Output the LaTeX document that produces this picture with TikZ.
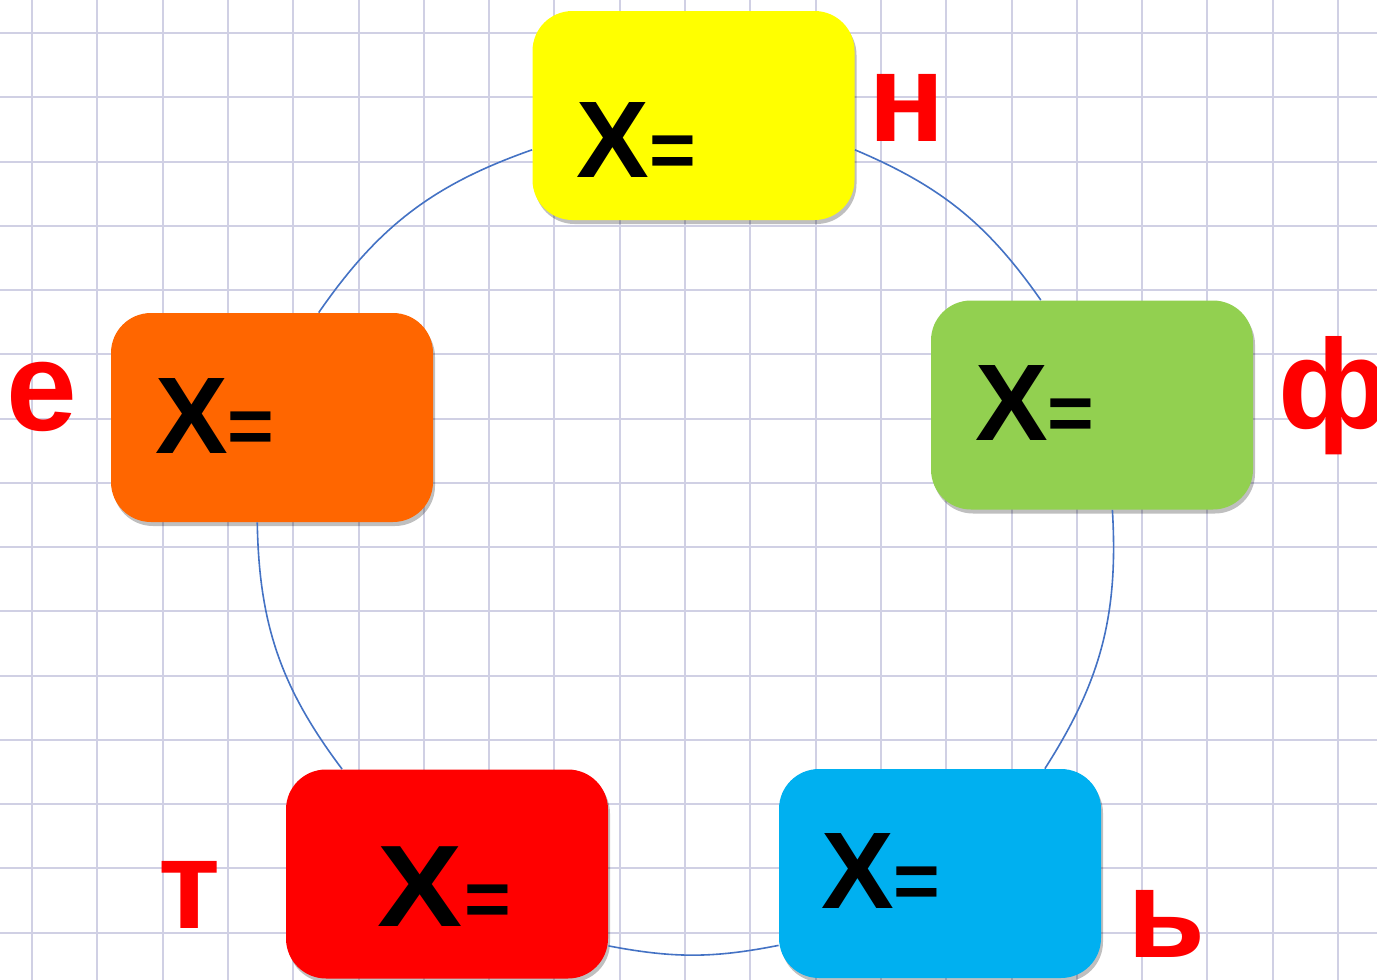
\documentclass[tikz,border=0pt]{standalone}
\usepackage{fontspec}
\usepackage{graphicx}
\setmainfont{Liberation Sans}
\usetikzlibrary{shadows,calc}
\definecolor{gridline}{RGB}{208,208,228}
\definecolor{cycleblue}{RGB}{68,114,196}
\definecolor{boxyellow}{RGB}{255,255,0}
\definecolor{boxgreen}{RGB}{146,208,80}
\definecolor{boxorange}{RGB}{255,102,0}
\definecolor{boxred}{RGB}{255,0,0}
\definecolor{boxblue}{RGB}{0,176,240}
\definecolor{letterred}{RGB}{255,0,0}
\newcommand{\eqsign}{{\fontsize{40}{44}\selectfont=}}

\begin{document}
\begin{tikzpicture}[x=0.5pt,y=-0.5pt,
 box/.style={rounded corners=20pt,minimum width=161pt,minimum height=104.5pt,inner sep=0pt,
  drop shadow={shadow xshift=1pt,shadow yshift=-2pt,opacity=.25,fill=black}},
 xeq/.style={anchor=base west,inner sep=0pt,font=\bfseries\fontsize{54.5}{60}\selectfont},
 bigxeq/.style={xeq,font=\bfseries\fontsize{58}{64}\selectfont},
 letter/.style={anchor=base west,inner sep=0pt,text=letterred,font=\bfseries\fontsize{63.5}{70}\selectfont},
 link/.style={draw=cycleblue,line width=0.8pt}]
\useasboundingbox (0,0) rectangle (1377,980);
\clip (0,0) rectangle (1377,980);
\fill[white] (0,0) rectangle (1377,980);
\foreach \i in {0,...,20} \draw[gridline,line width=1pt] ({32+65.3*\i},0) -- ({32+65.3*\i},980);
\foreach \j in {0,...,14} \draw[gridline,line width=1pt] (0,{33+64.25*\j}) -- (1377,{33+64.25*\j});
\node[box,fill=boxyellow] (yellow) at (693.5,115.5) {};
\node[box,fill=boxgreen] (green) at (1092,405) {};
\node[box,fill=boxorange] (orange) at (272,417.5) {};
\node[box,fill=boxred] (red) at (447,874) {};
\node[box,fill=boxblue] (blue) at (940,873.5) {};
\draw[link] (yellow.348) to[bend left=16] (green.116);
\draw[link] (green.-79) to[bend left=18] (blue.45);
\draw[link] (blue.204) to[bend left=11] (red.-24);
\draw[link] (red.135) to[bend left=18] (orange.-98);
\draw[link] (orange.66) to[bend left=18] (yellow.192);
\node[xeq] (yellowx) at ([shift={(44,62)}]yellow.west) {X\eqsign};
\node[xeq] (greenx) at ([shift={(44,35)}]green.west) {X\eqsign};
\node[xeq] (orangex) at ([shift={(44,35.5)}]orange.west) {X\eqsign};
\node[bigxeq] (redx) at ([shift={(91,52)}]red.west) {\scalebox{1.1}[1]{X}\hspace{1pt}\eqsign};
\node[xeq] (bluex) at ([shift={(42,34.5)}]blue.west) {X\eqsign};
\node[letter] (letn) at (868,141) {н};
\node[letter] (letf) at (1278,428) {ф};
\node[letter] (lete) at (6,430) {е};
\node[letter] (lett) at (158,928) {т};
\node[letter] (lets) at (1127,957) {ь};
\end{tikzpicture}
\end{document}
